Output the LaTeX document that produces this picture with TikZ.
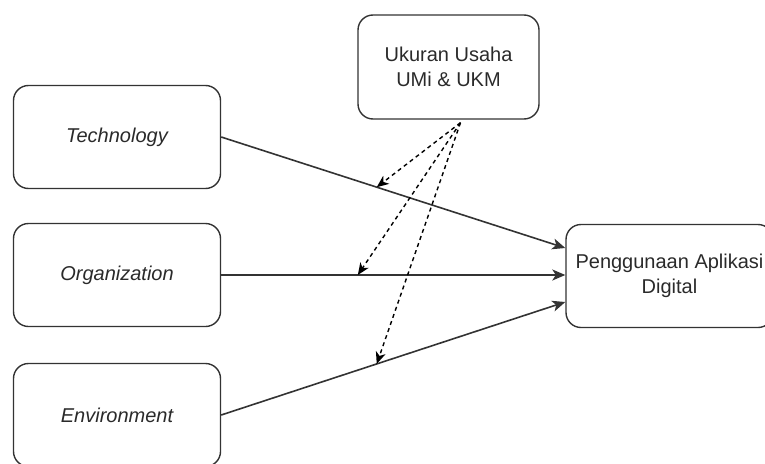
\documentclass[tikz,border=0pt]{standalone}
\usepackage{fontspec}
\setmainfont{Liberation Sans}
\usetikzlibrary{arrows.meta,calc}
\definecolor{txt}{HTML}{2A2A2A}
\definecolor{ln}{HTML}{333333}
\begin{document}
\begin{tikzpicture}[x=1pt,y=-1pt,
  box/.style={draw=ln,line width=1.4pt,rounded corners=15pt,minimum width=207pt,minimum height=103pt,inner sep=0pt,align=center,font=\fontsize{20}{25}\selectfont,text=txt},
  link/.style={draw=ln,line width=1.6pt,-{Stealth[length=13pt,width=11pt,inset=3.5pt]}},
  mod/.style={draw=black,line width=1.4pt,dash pattern=on 4pt off 3.5pt,-{Stealth[length=12pt,width=10pt,inset=3.5pt]}}]
\useasboundingbox (0,0) rectangle (765,463);
\node[box] (tech) at (117,137) {\itshape Technology};
\node[box] (org) at (117,275) {\itshape Organization};
\node[box] (env) at (117,415) {\itshape Environment};
\node[box] (out) at (669.5,276) {Penggunaan Aplikasi\\Digital};
\node[box,minimum width=181pt,minimum height=104pt] (size) at (448.5,67) {Ukuran Usaha\\UMi \& UKM};
\coordinate (s0) at ([xshift=12pt,yshift=-3pt]size.south);
\draw[link] (tech.east) -- ([yshift=28pt]out.west) coordinate[pos=0.452] (m1);
\draw[link] (org.east) -- (org.east -| out.west) coordinate[pos=0.397] (m2);
\draw[link] (env.east) -- ([yshift=-26pt]out.west) coordinate[pos=0.452] (m3);
\draw[mod] (s0) -- (m1);
\draw[mod] (s0) -- (m2);
\draw[mod] (s0) -- (m3);
\end{tikzpicture}
\end{document}
